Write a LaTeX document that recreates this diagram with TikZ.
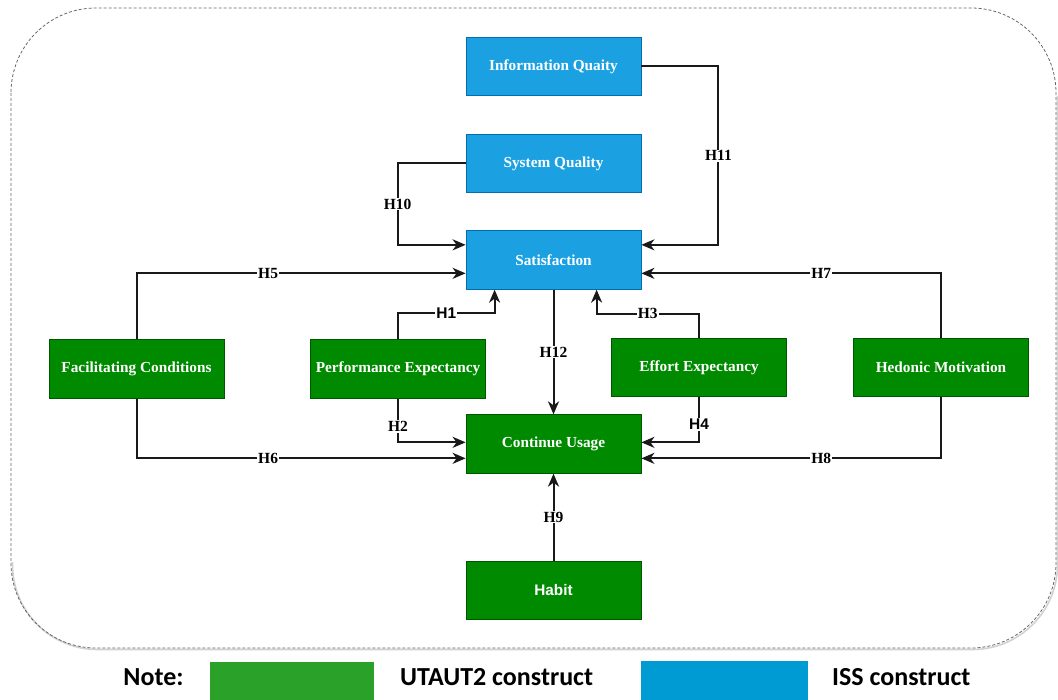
\documentclass[tikz,border=0pt]{standalone}
\usepackage{fontspec}
\setmainfont{Liberation Serif}
\newfontfamily\sanfont{Liberation Sans}
\newfontfamily\notefont{Carlito}
\usetikzlibrary{arrows.meta,calc}
\definecolor{issblue}{HTML}{1BA1E2}
\definecolor{issborder}{HTML}{006EAF}
\definecolor{utgreen}{HTML}{008A00}
\definecolor{utborder}{HTML}{005700}
\definecolor{leggreen}{HTML}{2AA22A}
\definecolor{legblue}{HTML}{009BD2}
\tikzset{
  boxbase/.style={rectangle, minimum width=175pt, inner sep=0pt, text=white,
    font=\fontsize{15.3}{18}\selectfont\bfseries, line width=0.8pt},
  issbox/.style={boxbase, fill=issblue, draw=issborder, minimum height=58.5pt},
  utbox/.style={boxbase, fill=utgreen, draw=utborder, minimum height=58.5pt},
  conn/.style={line width=2pt, black!90, -{Stealth[length=13pt,width=11pt,inset=4pt]}},
  lab/.style={fill=white, inner sep=1pt, text=black, font=\fontsize{15.5}{18}\selectfont\bfseries},
  labsans/.style={lab, font=\sanfont\fontsize{15.5}{18}\selectfont\bfseries},
  legtext/.style={font=\notefont\fontsize{26}{30}\selectfont\bfseries, inner sep=0pt}
}
\begin{document}
\begin{tikzpicture}[x=1pt,y=-1pt]
\useasboundingbox (0,0) rectangle (1058,700);
% outer frame
\draw[gray!35, line width=1.6pt, rounded corners=85pt] (1057.5,96) -- (1057.5,649.5) -- (12.5,649.5) -- (12.5,562);
\draw[gray!80!black, dash pattern=on 3pt off 2pt, line width=0.8pt, rounded corners=85pt] (11,8) rectangle (1056,648);
% nodes
\node[issbox] (iq) at (553.5,66.5) {Information Quaity};
\node[issbox] (sq) at (553.5,163.5) {System Quality};
\node[issbox] (sat) at (553.5,260) {Satisfaction};
\node[utbox] (cu) at (553.5,444) {Continue Usage};
\node[utbox, font=\sanfont\fontsize{15.3}{18}\selectfont\bfseries] (hab) at (553.5,590.5) {Habit};
\node[utbox] (fc) at (136.5,369) {Facilitating Conditions};
\node[utbox] (pe) at (398,369) {Performance Expectancy};
\node[utbox] (ee) at (699,367.5) {Effort Expectancy};
\node[utbox] (hm) at (941,367.5) {Hedonic Motivation};
% connectors
\draw[conn] (iq.east) -- ++(77,0) |- node[lab, pos=0.25] {H11} ($(sat.north east)+(0,14.5)$);
\draw[conn] (sq.west) -- ++(-68,0) |- node[lab, pos=0.25] {H10} ($(sat.north west)+(0,14.5)$);
\draw[conn] (fc.north) |- node[lab, pos=0.70] {H5} ($(sat.north west)+(0,43)$);
\draw[conn] (hm.north) |- node[lab, pos=0.70] {H7} ($(sat.north east)+(0,43)$);
\draw[conn] (pe.north) -- ++(0,-26) -| node[labsans, pos=0.25] {H1} ($(sat.south west)+(29,0)$);
\draw[conn] (ee.north) -- ++(0,-24) -| node[lab, pos=0.25] {H3} ($(sat.south west)+(131,0)$);
\draw[conn] (sat.south) -- node[lab] {H12} (cu.north);
\draw[conn] (pe.south) |- node[lab, pos=0.32] {H2} ($(cu.north west)+(0,28)$);
\draw[conn] (fc.south) |- node[lab, pos=0.70] {H6} ($(cu.north west)+(0,44)$);
\draw[conn] (ee.south) |- node[labsans, pos=0.30] {H4} ($(cu.north east)+(0,28)$);
\draw[conn] (hm.south) |- node[lab, pos=0.70] {H8} ($(cu.north east)+(0,44)$);
\draw[conn] (hab.north) -- node[lab] {H9} (cu.south);
% legend
\node[legtext] (note) at (153.5,677) {Note:};
\node[fill=leggreen, minimum width=164pt, minimum height=40pt, inner sep=0pt, anchor=north west] (lg) at (210,662) {};
\node[legtext, anchor=west] (lgt) at (400,677) {UTAUT2 construct};
\node[fill=legblue, minimum width=167pt, minimum height=40pt, inner sep=0pt, anchor=north west] (lb) at (641,661) {};
\node[legtext, anchor=west] (lbt) at (832,677) {ISS construct};
\end{tikzpicture}
\end{document}
